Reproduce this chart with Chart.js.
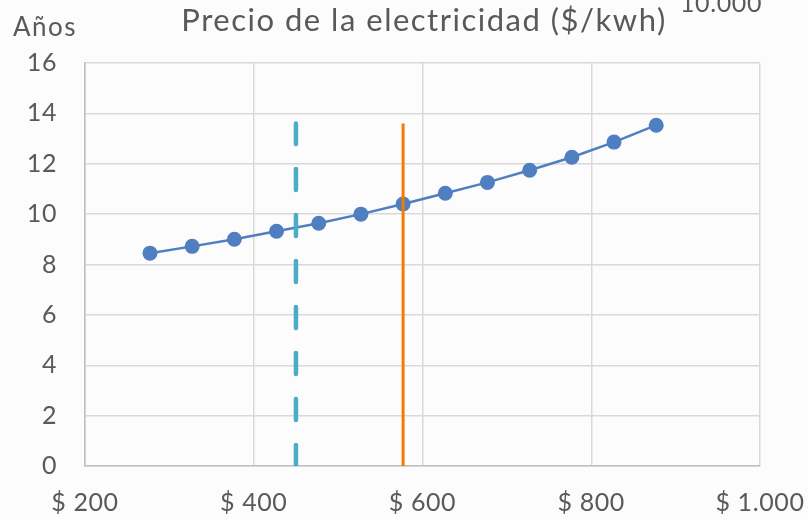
<!DOCTYPE html>
<html>
<head>
<meta charset="utf-8">
<script src="https://cdn.jsdelivr.net/npm/chart.js@4"></script>
<style>
  html, body { margin: 0; padding: 0; background: #fcfcfc; }
  #wrap { width: 808px; height: 519px; }
</style>
</head>
<body>
<div id="wrap"><canvas id="chart" width="808" height="519"></canvas></div>
<script>
const precios = [277, 327, 377, 427, 477, 527, 577, 627, 677, 727, 777, 827, 877]
const anios = [8.45, 8.72, 9.0, 9.32, 9.64, 10.0, 10.4, 10.83, 11.26, 11.74, 12.26, 12.86, 13.53]

const precioLimite = 450
const precioActual = 577
const alturaLineas = 13.6

const xTicks = [200, 400, 600, 800, 1000]
const yTicks = [0, 2, 4, 6, 8, 10, 12, 14, 16]

const fontName = 'Lato'
const grey = '#595959'

const toPoints = (xs, ys) => xs.map((x, i) => ({ x: x, y: ys[i] }))

// a bit of letter spacing so Lato gets close to the width of Calibri
const spacing = {
    id: 'spacing',
    beforeDraw (chart) {
        chart.ctx.letterSpacing = '0.6px'
    }
}

const textos = {
    id: 'textos',
    afterDraw (chart) {
        const ctx = chart.ctx
        ctx.save()
        ctx.fillStyle = grey
        ctx.textBaseline = 'alphabetic'
        ctx.textAlign = 'center'
        ctx.letterSpacing = '1.5px'
        ctx.font = '31px "' + fontName + '"'
        ctx.fillText('Precio de la electricidad ($/kwh)', 424, 31)
        ctx.textAlign = 'left'
        ctx.font = '26px "' + fontName + '"'
        ctx.fillText('Años', 13, 36)
        ctx.letterSpacing = '0.6px'
        ctx.font = '25px "' + fontName + '"'
        ctx.textAlign = 'center'
        ctx.fillText('10.000', 721, 12)
        ctx.restore()
    }
}

const crt = document.getElementById('chart')

new Chart(crt, {
    type: 'scatter',
    data: {
        datasets: [
            {
                label: 'actual',
                data: [{ x: precioActual, y: 0 }, { x: precioActual, y: alturaLineas }],
                showLine: true,
                borderColor: '#f47b00',
                borderWidth: 3,
                pointRadius: 0
            },
            {
                label: 'limite',
                data: [{ x: precioLimite, y: 0 }, { x: precioLimite, y: alturaLineas }],
                showLine: true,
                borderColor: '#4bacc6',
                borderWidth: 4.5,
                borderDash: [21, 25],
                borderCapStyle: 'round',
                pointRadius: 0
            },
            {
                label: 'años',
                data: toPoints(precios, anios),
                showLine: true,
                borderColor: '#4f7fc0',
                backgroundColor: '#4f7fc0',
                borderWidth: 2.5,
                pointRadius: 7.5,
                pointBorderWidth: 0
            }
        ]
    },
    options: {
        responsive: false,
        animation: false,
        layout: { padding: { top: 63, right: 48, left: 0, bottom: 0 } },
        plugins: {
            legend: { display: false },
            title: { display: false },
            tooltip: { enabled: false }
        },
        scales: {
            x: {
                type: 'linear',
                min: 200,
                max: 1000,
                afterBuildTicks: (axis) => { axis.ticks = xTicks.map(v => ({ value: v })) },
                afterFit: (axis) => {
                    axis.height = 53
                    axis.paddingLeft = 0
                    axis.paddingRight = 0
                },
                grid: { color: '#d9d9d9', drawTicks: false, lineWidth: 1.5 },
                border: { color: '#bfbfbf', width: 1.5 },
                ticks: {
                    padding: 22,
                    color: grey,
                    font: { family: fontName, size: 25 },
                    callback: (v) => '$ ' + v.toLocaleString('de-DE')
                }
            },
            y: {
                min: 0,
                max: 16,
                afterBuildTicks: (axis) => { axis.ticks = yTicks.map(v => ({ value: v })) },
                afterFit: (axis) => {
                    axis.width = 85
                    axis.paddingTop = 0
                    axis.paddingBottom = 0
                },
                grid: { color: '#d9d9d9', drawTicks: false, lineWidth: 1.5 },
                border: { color: '#bfbfbf', width: 1.5 },
                ticks: {
                    padding: 28,
                    color: grey,
                    font: { family: fontName, size: 25 }
                }
            }
        }
    },
    plugins: [spacing, textos]
})
</script>
</body>
</html>
